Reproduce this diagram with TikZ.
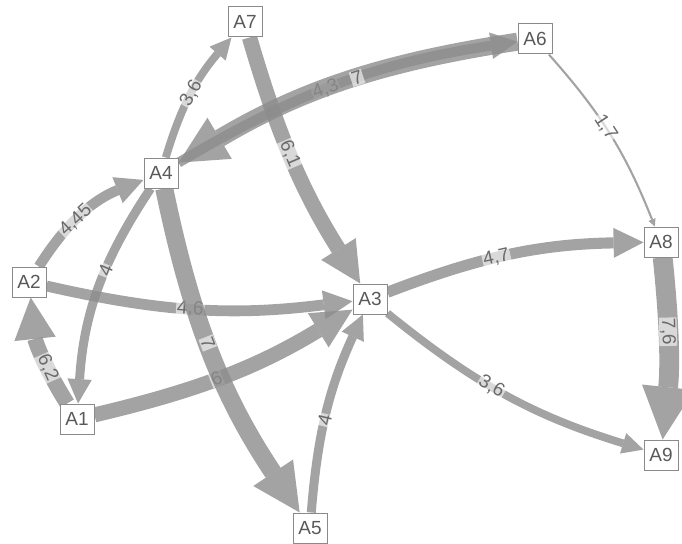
\documentclass[tikz,border=0pt]{standalone}
\usepackage{fontspec}
\setmainfont{Liberation Sans}
\usetikzlibrary{arrows.meta}
\definecolor{edgec}{HTML}{8C8C8C}
\definecolor{nodeb}{HTML}{8A8A8A}
\definecolor{nodet}{HTML}{595959}
\definecolor{labt}{HTML}{6A6A6A}
\pgfdeclarelayer{bg}
\pgfsetlayers{bg,main}
\begin{document}
\begin{tikzpicture}[x=1pt,y=1pt,
 nd/.style={draw=nodeb, line width=1pt, fill=white, text=nodet, minimum width=34pt, minimum height=30pt, inner sep=0pt, font=\fontsize{19}{19}\selectfont},
 edg/.style 2 args={draw=edgec, opacity=.8, line width=#1pt, -{Triangle[length=#2pt, width=#2pt, line width=0pt 0]}},
 lab/.style={sloped, opacity=1, fill=white, fill opacity=.6, text opacity=1, text=labt, inner sep=1pt, font=\fontsize{19}{19}\selectfont}]
\useasboundingbox (0,0) rectangle (682,-543);
\node[nd] (A1) at (77,-419) {A1};
\node[nd] (A2) at (29,-282) {A2};
\node[nd] (A3) at (370,-299) {A3};
\node[nd] (A4) at (161,-173) {A4};
\node[nd] (A5) at (310,-528) {A5};
\node[nd] (A6) at (535,-39) {A6};
\node[nd] (A7) at (245,-22) {A7};
\node[nd] (A8) at (661,-242) {A8};
\node[nd] (A9) at (661,-455) {A9};
\begin{pgfonlayer}{bg}
\draw[edg={7.8}{21.3}] (A4) to[bend left=12] node[lab,pos=.5]{3,6} (A7);
\draw[edg={15.3}{40.8}] (A7) to[bend right=8] node[lab,pos=.45]{6,1} (A3);
\draw[edg={9.9}{26.7}] (A4) to[bend left=11] node[lab,pos=.45]{4,3} (A6);
\draw[edg={18}{47.8}] (A6) to[bend right=11] node[lab,pos=.45]{7} (A4);
\draw[edg={2.1}{7.5}] (A6) to[bend left=10] node[lab,pos=.45]{1,7} (A8);
\draw[edg={10.35}{27.9}] (A2) to[bend left=18] node[lab,pos=.42]{4,45} (A4);
\draw[edg={9}{24.4}] (A4) to[bend right=15] node[lab,pos=.4]{4} (A1);
\draw[edg={15.6}{41.6}] (A1) to[bend left=13] node[lab,pos=.35]{6,2} (A2);
\draw[edg={10.8}{29}] (A2) to[bend right=10] node[lab,pos=.47]{4,6} (A3);
\draw[edg={15}{40}] (A1) to[bend right=9] node[lab,pos=.45]{6} (A3);
\draw[edg={18}{47.8}] (A4) to[bend right=11] node[lab,pos=.45]{7} (A5);
\draw[edg={9}{24.4}] (A5) to[bend left=10] node[lab,pos=.45]{4} (A3);
\draw[edg={11.1}{29.9}] (A3) to[bend left=10] node[lab,pos=.43]{4,7} (A8);
\draw[edg={7.8}{21.3}] (A3) to[bend right=11] node[lab,pos=.43]{3,6} (A9);
\draw[edg={19.8}{52.5}] (A8) to[bend left=6] node[lab,pos=.4]{7,6} (A9);
\end{pgfonlayer}
\end{tikzpicture}
\end{document}
